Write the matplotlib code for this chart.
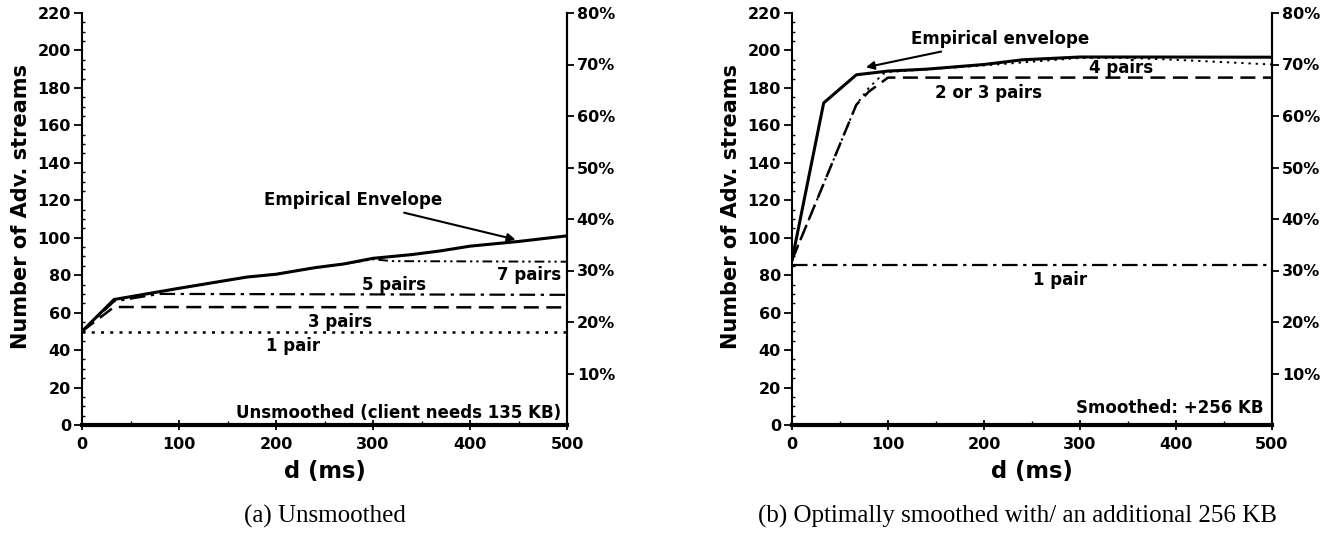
import matplotlib
matplotlib.use("Agg")
import matplotlib.pyplot as plt
from matplotlib.ticker import MultipleLocator, FuncFormatter

plt.rcParams['font.family'] = ['DejaVu Sans']
plt.rcParams['font.weight'] = 'bold'

# ---------------- data: (a) Unsmoothed ----------------
a_env_x = [0, 33, 100, 170, 200, 240, 270, 300, 340, 370, 400, 450, 500]
a_env_y = [50, 67, 73, 79, 80.5, 84, 86, 89, 91, 93, 95.5, 98, 101]
a_p7_x = [0, 33, 100, 170, 200, 240, 270, 300, 320, 500]
a_p7_y = [50, 67, 73, 79, 80.5, 84, 86, 88.5, 87.5, 87.2]
a_p5_x = [0, 33, 80, 500]
a_p5_y = [50, 66, 70, 69.5]
a_p3_x = [0, 33, 500]
a_p3_y = [50, 63, 62.8]
a_p1_x = [0, 500]
a_p1_y = [49.6, 49.6]

# ---------------- data: (b) Smoothed +256 KB ----------------
b_env_x = [0, 33, 67, 100, 140, 200, 240, 300, 350, 500]
b_env_y = [88, 172, 187, 189, 190, 192.5, 195, 196.5, 196.5, 196.4]
b_p4_x = [0, 67, 80, 95, 100, 200, 300, 350, 400, 500]
b_p4_y = [88, 171, 180, 187.5, 188.5, 192, 196, 196, 195, 192.5]
b_p23_x = [0, 67, 80, 100, 500]
b_p23_y = [88, 171, 178, 185.5, 185.5]
b_p1_x = [0, 500]
b_p1_y = [85.3, 85.3]

x_ticks = [0, 100, 200, 300, 400, 500]
y_ticks = [0, 20, 40, 60, 80, 100, 120, 140, 160, 180, 200, 220]
pct_ticks = [10, 20, 30, 40, 50, 60, 70, 80]

captions = ["(a) Unsmoothed", "(b) Optimally smoothed with/ an additional 256 KB"]

W, H = 1340, 535
fig = plt.figure(figsize=(W / 100, H / 100), dpi=100)

TICK = 11.5
TXT = 12

def make_axes(x0, x1):
    y0, y1 = 425, 13
    return fig.add_axes([x0 / W, (H - y0) / H, (x1 - x0) / W, (y0 - y1) / H])

def style(ax):
    ax.set_xlim(0, 500)
    ax.set_ylim(0, 220)
    ax.set_xticks(x_ticks)
    ax.set_yticks(y_ticks)
    ax.xaxis.set_minor_locator(MultipleLocator(50))
    ax.yaxis.set_minor_locator(MultipleLocator(5))
    ax.tick_params(axis='y', which='major', direction='out', length=6, width=1.3, labelsize=TICK, pad=2)
    ax.tick_params(axis='y', which='minor', direction='in', length=2.5, width=1)
    ax.tick_params(axis='x', which='major', direction='inout', length=7, width=1.3, labelsize=TICK, pad=5)
    ax.tick_params(axis='x', which='minor', direction='in', length=3, width=1)
    for lab in ax.get_xticklabels() + ax.get_yticklabels():
        lab.set_fontweight('bold')
    ax.spines['top'].set_visible(False)
    ax.spines['left'].set_linewidth(1.5)
    ax.spines['right'].set_linewidth(1.5)
    ax.spines['bottom'].set_linewidth(3)
    ax.set_xlabel("d (ms)", fontsize=16.3, fontweight='bold', labelpad=6)
    ax.set_ylabel("Number of Adv. streams", fontsize=15, fontweight='bold', labelpad=5)
    ax.yaxis.label.set_y(0.53)
    t = ax.twinx()
    t.set_ylim(0, 80)
    t.set_yticks(pct_ticks)
    t.yaxis.set_major_formatter(FuncFormatter(lambda v, p: "%d%%" % v))
    t.tick_params(axis='y', direction='out', length=5, width=1.3, labelsize=TICK, pad=2)
    for lab in t.get_yticklabels():
        lab.set_fontweight('bold')
    t.spines['top'].set_visible(False)
    t.spines['right'].set_linewidth(1.5)
    t.spines['bottom'].set_visible(False)
    t.spines['left'].set_visible(False)
    return t

# ---- panel (a) ----
ax1 = make_axes(82, 567)
style(ax1)
ax1.plot(a_p1_x, a_p1_y, color='black', lw=1.8, ls=(0, (1.2, 2.5)))
ax1.plot(a_p3_x, a_p3_y, color='black', lw=1.8, ls=(0, (6, 3)))
ax1.plot(a_p5_x, a_p5_y, color='black', lw=1.6, ls=(0, (7, 2.5, 1.5, 2.5)))
ax1.plot(a_p7_x, a_p7_y, color='black', lw=1.4, ls=(0, (5, 2, 1.2, 2, 1.2, 2)))
ax1.plot(a_env_x, a_env_y, color='black', lw=2.2)
ax1.annotate("Empirical Envelope", xy=(447, 99), xytext=(279, 120),
             ha='center', va='center', fontsize=TXT, fontweight='bold',
             arrowprops=dict(arrowstyle='-|>', color='black', lw=1.5,
                             shrinkA=2, shrinkB=0, mutation_scale=12))
ax1.text(494, 80, "7 pairs", ha='right', va='center', fontsize=TXT, fontweight='bold')
ax1.text(322, 74.5, "5 pairs", ha='center', va='center', fontsize=TXT, fontweight='bold')
ax1.text(266, 55, "3 pairs", ha='center', va='center', fontsize=TXT, fontweight='bold')
ax1.text(218, 42, "1 pair", ha='center', va='center', fontsize=TXT, fontweight='bold')
ax1.text(494, 6.5, "Unsmoothed (client needs 135 KB)", ha='right', va='center',
         fontsize=TXT, fontweight='bold')

# ---- panel (b) ----
ax2 = make_axes(792, 1272)
style(ax2)
ax2.plot(b_p1_x, b_p1_y, color='black', lw=1.6, ls=(0, (7, 2.5, 1.5, 2.5)))
ax2.plot(b_p4_x, b_p4_y, color='black', lw=1.4, ls=(0, (1.2, 2.5)))
ax2.plot(b_p23_x, b_p23_y, color='black', lw=1.8, ls=(0, (6, 3)))
ax2.plot(b_env_x, b_env_y, color='black', lw=2.2)
ax2.annotate("Empirical envelope", xy=(77, 191), xytext=(124, 206),
             ha='left', va='center', fontsize=TXT, fontweight='bold',
             arrowprops=dict(arrowstyle='-|>', color='black', lw=1.5,
                             shrinkA=2, shrinkB=0, mutation_scale=12))
ax2.text(343, 190.5, "4 pairs", ha='center', va='center', fontsize=TXT, fontweight='bold')
ax2.text(205, 177.5, "2 or 3 pairs", ha='center', va='center', fontsize=TXT, fontweight='bold')
ax2.text(279, 77.5, "1 pair", ha='center', va='center', fontsize=TXT, fontweight='bold')
ax2.text(491, 9, "Smoothed: +256 KB", ha='right', va='center', fontsize=TXT, fontweight='bold')

# captions
fig.text((82 + 567) / 2 / W, 1 - 516 / H, captions[0], ha='center', va='center',
         fontsize=18, fontweight='normal', family=['Liberation Serif', 'DejaVu Serif'])
fig.text(1017 / W, 1 - 516 / H, captions[1], ha='center', va='center',
         fontsize=18, fontweight='normal', family=['Liberation Serif', 'DejaVu Serif'])

fig.savefig("out.png", dpi=100)
